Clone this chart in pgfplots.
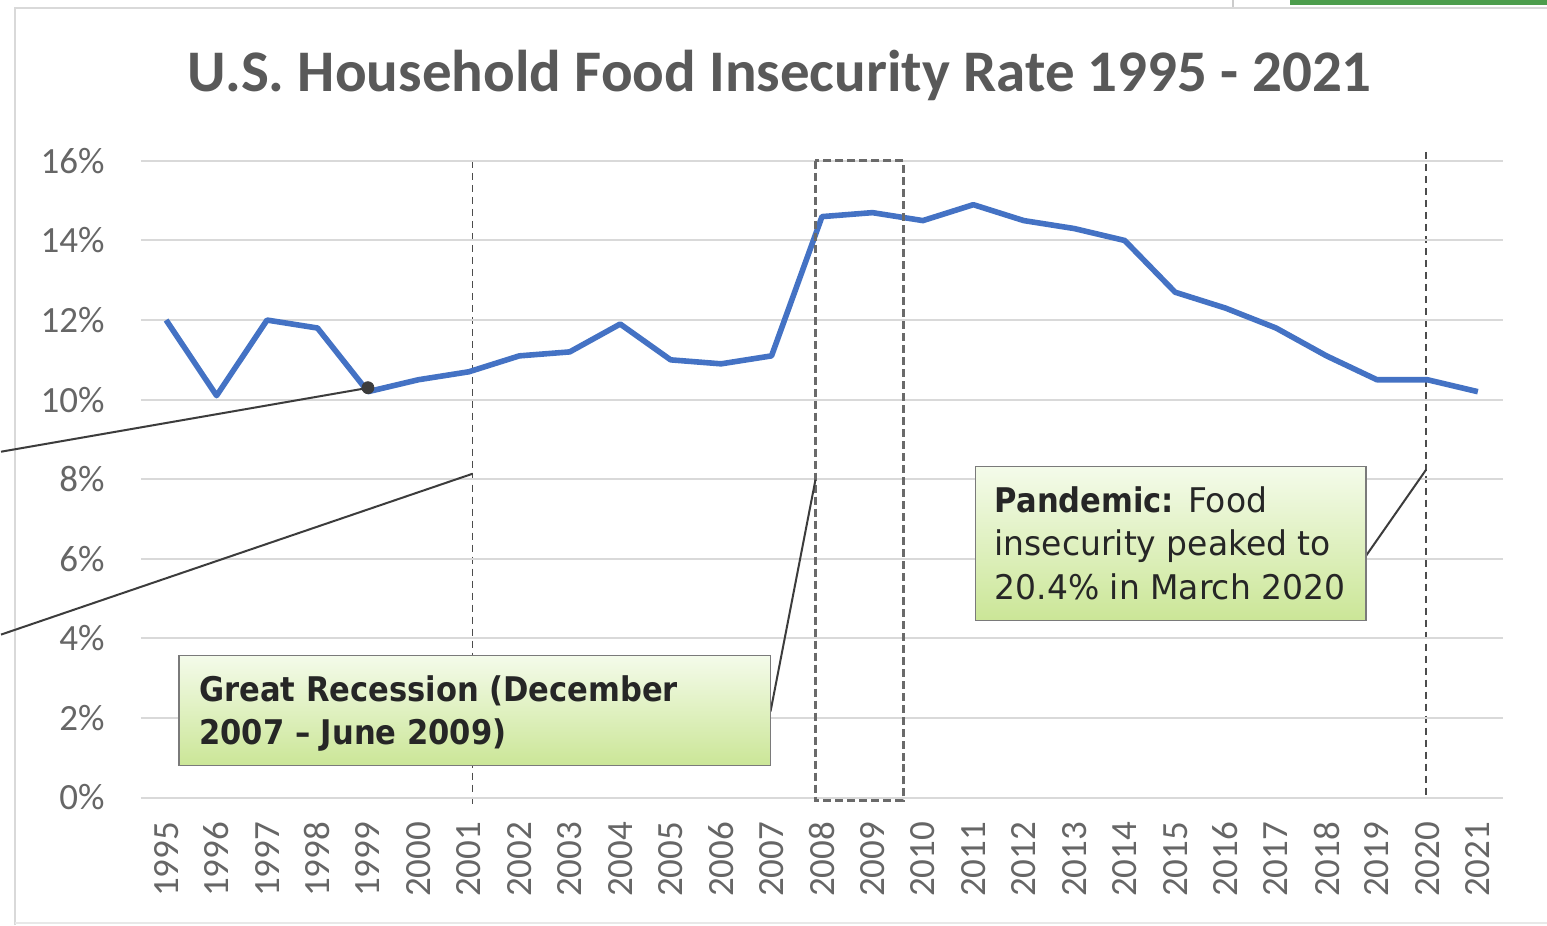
\documentclass[border=0pt]{standalone}
\usepackage{pgfplots}
\pgfplotsset{compat=1.18}
\usepackage{fontspec}
\setmainfont{Carlito}
\newfontfamily\callfont{DejaVu Sans}[UprightFeatures={FakeStretch=0.97},BoldFeatures={FakeStretch=0.9}]
\definecolor{txtgray}{HTML}{595959}
\definecolor{ticktxt}{HTML}{666666}
\definecolor{gridgray}{HTML}{D9D9D9}
\definecolor{lineblue}{HTML}{4472C4}
\definecolor{darktxt}{HTML}{262626}
\definecolor{gtop}{HTML}{F4FBEA}
\definecolor{gmid}{HTML}{E2F2C2}
\definecolor{gbot}{HTML}{CBE697}
\begin{document}
\begin{tikzpicture}
\begin{scope}[x=0.5bp,y=-0.5bp]
\path[use as bounding box] (0,0) rectangle (1547,926);
\fill[white] (0,0) rectangle (1547,926);
% slide decorations
\fill[white!80!black] (1232,0) rectangle (1233.5,9);
\fill[green!45!black!70!white] (1290,0) rectangle (1547,5);
% chart frame
\draw[gridgray, line width=1.2bp] (14,926) -- (14,8) -- (1547,8);
\draw[gridgray!60, line width=1bp] (14,924) -- (1547,924);
% title
\node[anchor=base, font=\bfseries\fontsize{29.5bp}{32bp}\selectfont, text=txtgray] at (779,92) {U.S. Household Food Insecurity Rate 1995 - 2021};
% dashed verticals (behind line)
\draw[txtgray!85!black, line width=0.75bp, dash pattern=on 3.5bp off 2.5bp] (472,161) -- (472,805);
\draw[txtgray!85!black, line width=0.75bp, dash pattern=on 3.5bp off 2.5bp] (1426,152) -- (1426,798);
\end{scope}
\begin{axis}[
  at={(70bp,-399bp)}, anchor=south west,
  width=681.5bp, height=318.5bp, scale only axis,
  xmin=-0.5, xmax=26.5, ymin=0, ymax=16,
  axis line style={draw=none},
  major tick length=0pt,
  ymajorgrids, grid style={gridgray, line width=1bp},
  ytick={0,2,...,16},
  yticklabel={\pgfmathprintnumber{\tick}\%},
  /pgf/number format/assume math mode=true,
  yticklabel style={font=\fontsize{18.5bp}{20bp}\selectfont, text=ticktxt, anchor=east, inner sep=0pt, xshift=-18bp},
  xtick={0,...,26},
  xticklabels={1995,1996,1997,1998,1999,2000,2001,2002,2003,2004,2005,2006,2007,2008,2009,2010,2011,2012,2013,2014,2015,2016,2017,2018,2019,2020,2021},
  xticklabel style={font=\fontsize{18.5bp}{20bp}\selectfont, text=ticktxt, rotate=90, anchor=east, inner sep=0pt, xshift=-12bp},
  clip=false,
]
\addplot[lineblue, line width=2.8bp, line join=round] coordinates {
(0,12.0) (1,10.1) (2,12.0) (3,11.8) (4,10.2) (5,10.5) (6,10.7) (7,11.1) (8,11.2)
(9,11.9) (10,11.0) (11,10.9) (12,11.1) (13,14.6) (14,14.7) (15,14.5) (16,14.9)
(17,14.5) (18,14.3) (19,14.0) (20,12.7) (21,12.3) (22,11.8) (23,11.1) (24,10.5)
(25,10.5) (26,10.2)};
\addplot[only marks, mark=*, mark size=3bp, color=darktxt!90!white] coordinates {(4,10.3)};
\end{axis}
\begin{scope}[x=0.5bp,y=-0.5bp]
% dashed box (recession)
\draw[txtgray!90!white, line width=1.5bp, dash pattern=on 4bp off 2bp] (815,161) rectangle (903,801);
% connector lines
\draw[darktxt!90!white, line width=1bp] (368,388) -- (0,452);
\draw[darktxt!90!white, line width=1bp] (472,474) -- (0,635);
\draw[darktxt!90!white, line width=1bp] (770,712) -- (815,480);
\draw[darktxt!90!white, line width=1bp] (1366,556) -- (1426,470);
% callout boxes
\shade[top color=gtop, middle color=gmid, bottom color=gbot] (178,656) rectangle (770,766);
\draw[txtgray!80!white, line width=0.75bp] (178,656) rectangle (770,766);
\shade[top color=gtop, middle color=gmid, bottom color=gbot] (975,467) rectangle (1366,621);
\draw[txtgray!80!white, line width=0.75bp] (975,467) rectangle (1366,621);
\node[anchor=base west, inner sep=0pt, text=darktxt, font=\callfont\bfseries\fontsize{17bp}{20bp}\selectfont] at (198,702) {Great Recession (December};
\node[anchor=base west, inner sep=0pt, text=darktxt, font=\callfont\bfseries\fontsize{17bp}{20bp}\selectfont] at (198,745) {2007 – June 2009)};
\node[anchor=base west, inner sep=0pt, text=darktxt, font=\callfont\fontsize{17bp}{20bp}\selectfont] at (994,513) {\textbf{Pandemic:} Food};
\node[anchor=base west, inner sep=0pt, text=darktxt, font=\callfont\fontsize{17bp}{20bp}\selectfont] at (994,556) {insecurity peaked to};
\node[anchor=base west, inner sep=0pt, text=darktxt, font=\callfont\fontsize{17bp}{20bp}\selectfont] at (994,600) {20.4\% in March 2020};
\end{scope}
\end{tikzpicture}
\end{document}
